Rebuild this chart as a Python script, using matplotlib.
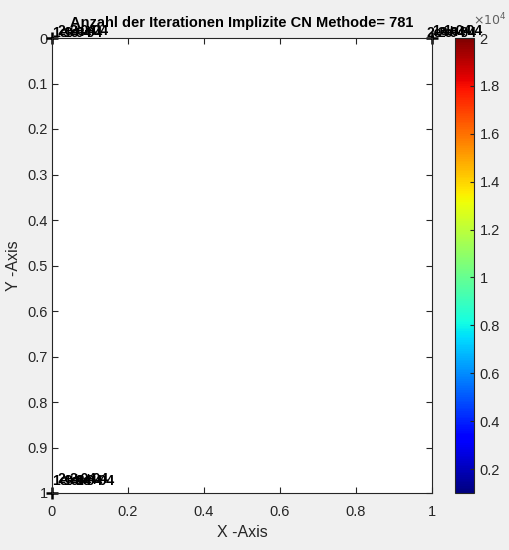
import matplotlib
matplotlib.use("Agg")
import matplotlib.pyplot as plt
import numpy as np

plt.rcParams['font.family'] = ['Liberation Sans', 'DejaVu Sans']

# contour label positions (they pile up in the corners)
label_x = [0.0, 0.015, 0.03, 0.045, 0.0, 0.015, 0.03, 0.045, 0.06, 0.985, 1.0, 1.015, 1.03]
label_y = [0.005, 0.0, 0.005, 0.0, 0.99, 0.985, 0.99, 0.985, 0.99, 0.005, 0.0, 0.005, 0.0]
label_txt = ['1e+04', '2e+04', '1e+04', '2e+04', '1e+04', '2e+04', '1e+04', '2e+04',
             '1e+04', '2e+04', '1e+04', '2e+04', '1e+04']
cross_x = [0.0, 0.0, 1.0]
cross_y = [0.0, 1.0, 0.0]

title = "Anzahl der Iterationen Implizite CN Methode= 781"
vmin, vmax = 1000, 20000
cbar_ticks = [2000, 4000, 6000, 8000, 10000, 12000, 14000, 16000, 18000, 20000]

fig = plt.figure(figsize=(5.1, 5.5), dpi=100, facecolor='#f0f0f0')
ax = fig.add_axes([52/510, 1 - 493/550, 380/510, 455/550])
ax.set_facecolor('white')
ax.set_xlim(0, 1)
ax.set_ylim(1, 0)
ax.set_xticks(np.arange(0, 1.01, 0.2))
ax.set_xticklabels(['0', '0.2', '0.4', '0.6', '0.8', '1'])
ax.set_yticks(np.arange(0, 1.01, 0.1))
ax.set_yticklabels(['0', '0.1', '0.2', '0.3', '0.4', '0.5', '0.6', '0.7', '0.8', '0.9', '1'])
ax.tick_params(direction='in', top=True, right=True, labelsize=10.5, colors='#262626',
               length=4)
ax.tick_params(axis='x', pad=9)
ax.tick_params(axis='y', pad=3)
for s in ax.spines.values():
    s.set_color('#262626')
ax.set_xlabel('X -Axis', fontsize=11.5, color='#262626')
ax.set_ylabel('Y -Axis', fontsize=11.5, color='#262626')
ax.yaxis.set_label_coords(-0.082, 0.5)
ax.xaxis.set_label_coords(0.5, -0.07)
ax.set_title(title, fontsize=10.5, fontweight='bold', pad=8)

ax.plot(cross_x, cross_y, '+', color='black', ms=9, mew=1.8, clip_on=False)
for x, y, t in zip(label_x, label_y, label_txt):
    ax.text(x, y, t, fontsize=10, fontweight='bold', color='black', ha='left', va='bottom',
            clip_on=False)

cax = fig.add_axes([455/510, 1 - 493/550, 19/510, 455/550])
norm = matplotlib.colors.Normalize(vmin=vmin, vmax=vmax)
cb = fig.colorbar(matplotlib.cm.ScalarMappable(norm=norm, cmap='jet'), cax=cax)
cb.set_ticks(cbar_ticks)
cb.set_ticklabels([f"{t/1e4:g}" for t in cbar_ticks])
cax.tick_params(direction='in', labelsize=10.5, colors='#262626', length=3, pad=4)
cb.outline.set_edgecolor('#262626')
fig.text(473/510, 1 - 25/550, r'$\times10^4$', fontsize=9, color='#606060')

fig.savefig('out.png', dpi=100, facecolor=fig.get_facecolor())
